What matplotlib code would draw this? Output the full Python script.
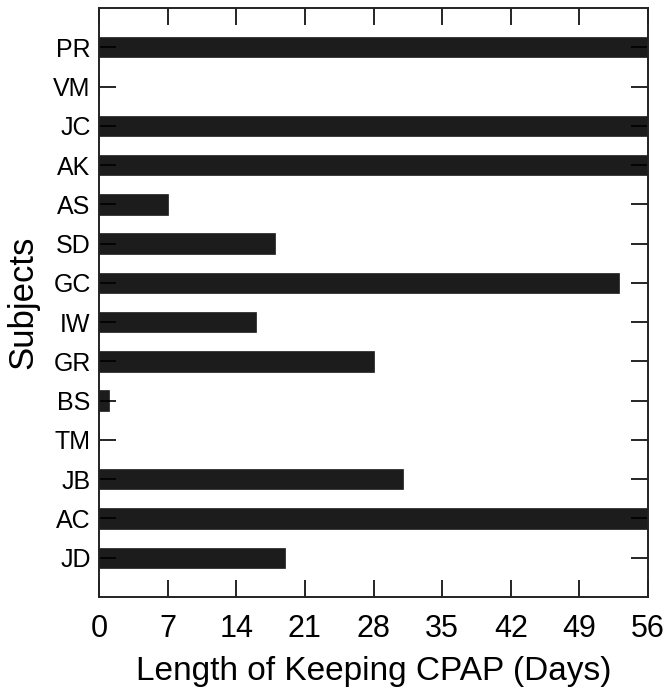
import matplotlib
matplotlib.use("Agg")
import matplotlib.pyplot as plt

subjects = ["PR", "VM", "JC", "AK", "AS", "SD", "GC", "IW", "GR", "BS", "TM", "JB", "AC", "JD"]
days = [56, 0, 56, 56, 7, 18, 53, 16, 28, 1, 0, 31, 56, 19]
xticks = [0, 7, 14, 21, 28, 35, 42, 49, 56]

plt.rcParams['font.family'] = ['Liberation Sans', 'DejaVu Sans']

fig = plt.figure(figsize=(6.7, 6.93), dpi=100)
ax = fig.add_axes([99/670, 1 - 597/693, 549/670, 589/693])

n = len(subjects)
pos = list(range(n - 1, -1, -1))
ax.barh(pos, days, height=0.52, color='#1c1c1c', edgecolor='#1c1c1c', linewidth=0.5)

ax.set_xlim(0, 56)
ax.set_ylim(-1, n)
ax.set_xticks(xticks)
ax.set_xticklabels([str(t) for t in xticks], fontsize=22)
ax.set_yticks(pos)
ax.set_yticklabels(subjects, fontsize=18)

ax.tick_params(axis='x', direction='in', length=12, width=1.2, top=True, bottom=True, pad=12)
ax.tick_params(axis='y', direction='in', length=12, width=1.2, left=True, right=True, pad=6)
for s in ax.spines.values():
    s.set_linewidth(1.4)
    s.set_color('#222222')

ax.set_xlabel("Length of Keeping CPAP (Days)", fontsize=24, labelpad=9)
ax.set_ylabel("Subjects", fontsize=25, labelpad=10)

fig.savefig("out.png", dpi=100)
